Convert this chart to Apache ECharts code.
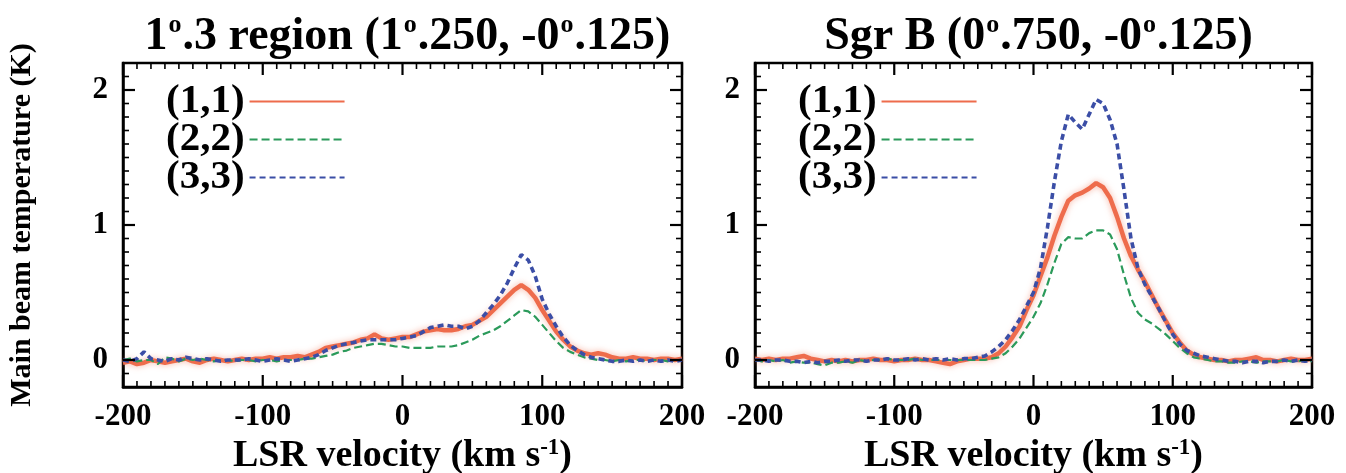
<!DOCTYPE html>
<html>
<head>
<meta charset="utf-8">
<script src="https://cdn.jsdelivr.net/npm/echarts@6/dist/echarts.min.js"></script>
<style>
html,body{margin:0;padding:0;background:#fff}
#c{width:1346px;height:473px}
</style>
</head>
<body>
<div id="c"></div>
<script>
// ---- DATA ----
const velocities = [-200,-195,-190,-185,-180,-175,-170,-165,-160,-155,-150,-145,-140,-135,-130,-125,-120,-115,-110,-105,-100,-95,-90,-85,-80,-75,-70,-65,-60,-55,-50,-45,-40,-35,-30,-25,-20,-15,-10,-5,0,5,10,15,20,25,30,35,40,45,50,55,60,65,70,75,80,85,90,95,100,105,110,115,120,125,130,135,140,145,150,155,160,165,170,175,180,185,190,195,200];
const seriesNames = ['(1,1)', '(2,2)', '(3,3)'];
const panelTitles = ['1o.3 region (1o.250, -0o.125)', 'Sgr B (0o.750, -0o.125)'];
const yTickLabels = [0, 1, 2];

// Panel 1: 1.3 region
const r13_11 = [-0.02,-0.01,-0.03,-0.02,0.00,-0.01,-0.02,-0.01,0.00,0.01,-0.01,-0.02,0.00,0.01,0.00,-0.01,0.00,0.01,0.00,0.01,0.01,0.02,0.01,0.02,0.02,0.03,0.02,0.04,
  0.06,0.09,0.10,0.11,0.12,0.13,0.15,0.16,0.19,0.16,0.15,0.16,0.17,0.17,0.19,0.21,0.22,0.23,0.22,0.22,0.23,0.25,0.26,0.29,0.32,0.37,0.42,0.47,0.52,0.555,0.52,0.46,0.37,0.29,0.21,0.15,0.10,0.07,0.05,0.04,0.05,0.04,0.02,0.01,0.01,0.02,0.01,0.01,0.00,0.01,0.01,0.00,0.01];
const r13_22 = [0.00,0.01,-0.01,0.00,0.00,-0.03,0.02,0.01,-0.01,0.01,0.00,0.01,0.00,-0.01,0.00,0.00,-0.01,0.00,0.00,-0.01,0.00,0.00,-0.01,0.00,0.00,0.00,0.01,0.01,
  0.02,0.03,0.04,0.06,0.07,0.09,0.10,0.11,0.12,0.12,0.11,0.10,0.10,0.09,0.09,0.09,0.09,0.10,0.10,0.10,0.11,0.13,0.15,0.18,0.20,0.22,0.25,0.29,0.33,0.37,0.36,0.32,0.26,0.20,0.14,0.09,0.06,0.04,0.02,0.01,0.00,0.00,-0.01,0.00,-0.01,0.00,0.00,-0.01,0.00,0.00,-0.01,0.00,0.00];
const r13_33 = [0.00,-0.01,0.01,0.06,0.01,0.00,-0.01,0.01,0.00,0.02,0.01,0.00,0.01,0.00,-0.01,0.00,0.00,0.00,0.01,0.00,-0.01,0.00,0.01,0.00,-0.01,0.00,0.01,0.02,
  0.04,0.07,0.09,0.11,0.12,0.13,0.14,0.15,0.15,0.15,0.15,0.15,0.16,0.17,0.18,0.21,0.24,0.25,0.26,0.25,0.25,0.23,0.25,0.29,0.35,0.41,0.48,0.57,0.68,0.78,0.74,0.62,0.45,0.34,0.25,0.17,0.11,0.07,0.04,0.02,0.01,0.00,-0.01,-0.01,0.00,-0.01,0.00,-0.01,0.00,-0.01,0.00,-0.01,0.00];

// Panel 2: Sgr B
const sgrb_11 = [0.01,0.00,0.01,0.00,0.01,0.01,0.02,0.03,0.01,0.00,-0.01,0.00,-0.01,0.00,-0.01,0.00,0.00,0.01,0.00,0.00,-0.01,0.00,0.00,0.01,0.00,0.00,-0.01,-0.02,-0.03,-0.01,0.00,0.01,0.01,
  0.01,0.02,0.05,0.10,0.17,0.25,0.37,0.48,0.62,0.76,0.92,1.06,1.18,1.22,1.24,1.27,1.31,1.28,1.20,1.06,0.90,0.77,0.67,0.58,0.48,0.38,0.29,0.20,0.13,0.07,0.04,0.02,0.01,0.00,0.00,-0.01,0.00,0.00,0.01,0.02,0.00,0.00,-0.01,0.00,0.01,0.00,0.00,0.01];
const sgrb_22 = [0.00,-0.01,0.00,-0.01,0.00,-0.02,-0.01,-0.02,-0.02,-0.03,-0.04,-0.02,-0.02,-0.01,-0.02,0.00,-0.01,0.00,0.00,0.01,0.00,0.00,0.00,0.01,0.00,0.00,0.00,0.00,0.00,0.00,0.00,0.00,0.00,
  0.00,0.01,0.02,0.05,0.10,0.16,0.24,0.32,0.42,0.56,0.72,0.86,0.91,0.90,0.90,0.94,0.96,0.96,0.93,0.82,0.63,0.46,0.35,0.30,0.27,0.23,0.19,0.14,0.09,0.05,0.02,0.01,0.00,-0.01,-0.01,-0.02,-0.02,-0.01,-0.01,-0.02,-0.01,-0.01,-0.01,0.00,-0.01,-0.01,0.00,-0.01];
const sgrb_33 = [0.00,0.00,-0.01,0.00,0.00,-0.01,-0.01,-0.02,-0.01,-0.02,-0.01,-0.01,0.00,-0.01,0.00,0.00,-0.01,0.00,0.00,0.01,0.00,0.00,0.01,0.00,0.01,0.00,0.01,0.00,0.01,0.00,0.01,0.01,0.02,
  0.03,0.06,0.10,0.15,0.22,0.30,0.40,0.50,0.68,0.98,1.32,1.62,1.82,1.76,1.71,1.82,1.93,1.90,1.78,1.60,1.26,0.90,0.68,0.56,0.47,0.38,0.28,0.19,0.12,0.07,0.05,0.03,0.02,0.01,0.00,-0.01,-0.01,-0.02,-0.01,-0.01,-0.02,-0.01,-0.01,0.00,-0.01,0.00,-0.01,0.00];

const panels = [
  {title: panelTitles[0], values: [r13_11, r13_22, r13_33]},
  {title: panelTitles[1], values: [sgrb_11, sgrb_22, sgrb_33]}
];

// ---- STYLE / LAYOUT ----
const FONT = '"Liberation Serif", "DejaVu Serif", serif';
const X_MIN = -200, X_MAX = 200, X_MAJOR = 100, X_MINOR = 10;
const Y_MIN = -0.2, Y_MAX = 2.2, Y_MINOR = 0.1;
const grids = [
  {left: 123, top: 63, width: 559, height: 324, outerBoundsMode: 'none', show: true, borderColor: '#000', borderWidth: 2.5, backgroundColor: 'transparent'},
  {left: 755, top: 63, width: 557, height: 324, outerBoundsMode: 'none', show: true, borderColor: '#000', borderWidth: 2.5, backgroundColor: 'transparent'}
];
const lineStyles = [
  {color: '#ee6c4c', width: 4.5, type: 'solid', shadowBlur: 6, shadowColor: 'rgba(240,120,90,0.55)'},
  {color: '#2b9a5a', width: 2.2, type: [8, 4]},
  {color: '#3b4ea6', width: 3.6, type: [6, 4]}
];
function axisLine() { return {show: true, onZero: false, lineStyle: {color: '#000', width: 2.5}}; }

function titleRich(t) {
  const parts = t.split('o.');
  let s = '';
  parts.forEach((p, i) => {
    s += '{n|' + p + '}';
    if (i < parts.length - 1) s += '{s|o}{n|.}';
  });
  return s;
}

const option = {
  animation: false,
  backgroundColor: '#fff',
  title: panels.map((p, i) => ({
    text: titleRich(p.title),
    left: grids[i].left + grids[i].width / 2,
    textAlign: 'center',
    top: 7,
    textStyle: {
      rich: {
        n: {fontFamily: FONT, fontWeight: 'bold', fontSize: 46, color: '#000', lineHeight: 50},
        s: {fontFamily: FONT, fontWeight: 'bold', fontSize: 26, color: '#000', verticalAlign: 'top', lineHeight: 50, padding: [0, 1, 22, 1]}
      }
    }
  })),
  legend: panels.map((p, i) => ({
    data: seriesNames,
    orient: 'vertical',
    align: 'right',
    left: grids[i].left + 38,
    top: 76,
    itemWidth: 95,
    itemHeight: 14,
    itemGap: -3,
    selectedMode: false,
    itemStyle: {opacity: 0},
    textStyle: {fontFamily: FONT, fontWeight: 'bold', fontSize: 41, color: '#000', lineHeight: 36}
  })),
  grid: grids,
  xAxis: grids.map((g, i) => ({
    gridIndex: i, type: 'value', position: 'bottom', min: X_MIN, max: X_MAX, interval: X_MAJOR,
    axisLine: axisLine(),
    axisTick: {show: false},
    splitLine: {show: false},
    axisLabel: {show: true, margin: 14, showMinLabel: true, showMaxLabel: true,
      fontFamily: FONT, fontWeight: 'bold', fontSize: 31, color: '#000'},
    name: '{n|LSR velocity (km s}{s|-1}{n|)}',
    nameLocation: 'middle', nameGap: 49,
    nameTextStyle: {rich: {
      n: {fontFamily: FONT, fontWeight: 'bold', fontSize: 38, color: '#000', lineHeight: 38},
      s: {fontFamily: FONT, fontWeight: 'bold', fontSize: 23, color: '#000', verticalAlign: 'top', lineHeight: 38, padding: [0, 0, 12, 0]}
    }}
  })),
  yAxis: grids.map((g, i) => ({
    gridIndex: i, type: 'value', position: 'left', min: Y_MIN, max: Y_MAX, interval: Y_MINOR,
    axisLine: axisLine(),
    axisTick: {show: false},
    splitLine: {show: false},
    axisLabel: {show: true, customValues: yTickLabels, margin: 15, formatter: v => String(Math.round(v)),
      fontFamily: FONT, fontWeight: 'bold', fontSize: 31, color: '#000'},
    name: i === 0 ? 'Main beam temperature (K)' : '',
    nameLocation: 'middle', nameGap: 86, nameRotate: 90,
    nameTextStyle: {fontFamily: FONT, fontWeight: 'bold', fontSize: 30, color: '#000'}
  })),
  series: [].concat(...panels.map((p, i) => p.values.map((vals, k) => ({
    name: seriesNames[k],
    type: 'line',
    xAxisIndex: i,
    yAxisIndex: i,
    showSymbol: false,
    symbol: 'none',
    smooth: false,
    lineStyle: lineStyles[k],
    itemStyle: {color: lineStyles[k].color},
    data: velocities.map((v, j) => [v, vals[j]])
  }))))
};

const chart = echarts.init(document.getElementById('c'));
chart.setOption(option);

// Inward major/minor ticks on all four sides, placed through the axes' own scales
function tickElements() {
  const els = [];
  const seg = (x1, y1, x2, y2, major) => els.push({
    type: 'line', silent: true, z: 50,
    shape: {x1, y1, x2, y2},
    style: {stroke: '#000', lineWidth: major ? 2.2 : 1.6}
  });
  panels.forEach((p, i) => {
    const finder = {xAxisIndex: i, yAxisIndex: i};
    const nx = Math.round((X_MAX - X_MIN) / X_MINOR);
    for (let k = 0; k <= nx; k++) {
      const v = X_MIN + k * X_MINOR;
      const major = Math.abs(v % X_MAJOR) < 1e-9;
      const len = major ? 12 : 6;
      const b = chart.convertToPixel(finder, [v, Y_MIN]);
      const t = chart.convertToPixel(finder, [v, Y_MAX]);
      seg(b[0], b[1], b[0], b[1] - len, major);
      seg(t[0], t[1], t[0], t[1] + len, major);
    }
    const ny = Math.round((Y_MAX - Y_MIN) / Y_MINOR);
    for (let k = 0; k <= ny; k++) {
      const y = Y_MIN + k * Y_MINOR;
      const major = yTickLabels.some(m => Math.abs(m - y) < 1e-6);
      const len = major ? 12 : 6;
      const l = chart.convertToPixel(finder, [X_MIN, y]);
      const r = chart.convertToPixel(finder, [X_MAX, y]);
      seg(l[0], l[1], l[0] + len, l[1], major);
      seg(r[0], r[1], r[0] - len, r[1], major);
    }
  });
  return els;
}
chart.setOption({graphic: {elements: tickElements()}});
</script>
</body>
</html>
